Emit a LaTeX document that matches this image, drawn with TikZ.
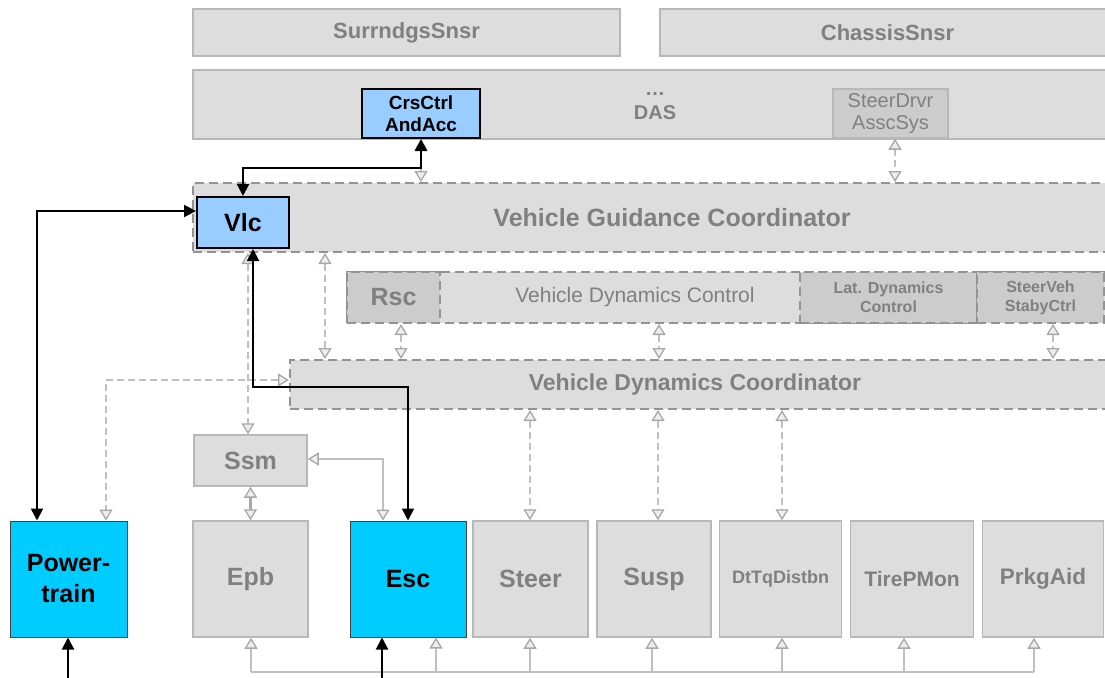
\documentclass[tikz,border=0pt]{standalone}
\usepackage{fontspec}
\setmainfont{Liberation Sans}
\usetikzlibrary{calc,arrows.meta}

\definecolor{boxfill}{HTML}{DDDDDD}
\definecolor{boxdark}{HTML}{CCCCCC}
\definecolor{boxline}{HTML}{B8B8B8}
\definecolor{dashline}{HTML}{939393}
\definecolor{txtgray}{HTML}{808080}
\definecolor{lineg}{HTML}{C0C0C0}
\definecolor{tipline}{HTML}{A8A8A8}
\definecolor{tipfill}{HTML}{EEEEEE}
\definecolor{vlcblue}{HTML}{99CCFF}
\definecolor{cyanbox}{HTML}{00CCFF}

\newcommand{\sz}[2]{\fontsize{#1}{#2}\selectfont}

\begin{document}
\begin{tikzpicture}[x=1pt,y=-1pt,
  grybox/.style={draw=boxline,line width=1.5pt,fill=boxfill,text=txtgray,inner sep=0pt,align=center},
  dshbox/.style={draw=dashline,line width=2pt,dash pattern=on 9pt off 5pt,fill=boxfill,text=txtgray,inner sep=0pt,align=center},
  blubox/.style={draw=black,line width=2pt,fill=vlcblue,inner sep=0pt,align=center},
  cyabox/.style={draw=black!75,line width=1pt,fill=cyanbox,inner sep=0pt,align=center},
  ecu/.style={minimum height=116pt},
  gtip/.tip={Triangle[width=13pt,length=11pt,line width=1.3pt,color=tipline,fill=tipfill]},
  btip/.tip={Triangle[width=12pt,length=12pt]},
  blk/.style={draw=black,line width=2pt},
  gsol/.style={draw=lineg,line width=2.5pt},
  gdsh/.style={gsol,dash pattern=on 7pt off 4pt}]
\useasboundingbox (0,0) rectangle (1105,677);

% sensors and DAS
\node[grybox,minimum width=427pt,minimum height=47pt,font=\bfseries\sz{22}{26}] (surr) at (406.5,32.5) {SurrndgsSnsr};
\node[grybox,minimum width=455pt,minimum height=47pt,font=\bfseries\sz{22}{26}] (chas) at (887.5,32.5) {ChassisSnsr};
\node[grybox,minimum width=922pt,minimum height=69pt] (das) at (654,104.5) {};
\node[text=txtgray,font=\bfseries\sz{20}{24},align=center] (dastxt) at (655,106) {\dots\\DAS};
\node[blubox,minimum width=118pt,minimum height=49pt,font=\bfseries\sz{19}{22}] (crs) at (421,113.5) {CrsCtrl\\AndAcc};
\node[grybox,fill=boxdark,minimum width=115pt,minimum height=49pt,font=\sz{20}{22}] (sdas) at (890.5,113.5) {SteerDrvr\\AsscSys};

% coordinators
\node[dshbox,minimum width=958pt,minimum height=69pt,font=\bfseries\sz{25}{28}] (vgc) at (672,217.5) {Vehicle Guidance Coordinator};
\node[blubox,minimum width=92pt,minimum height=51pt,font=\bfseries\sz{25}{28}] (vlc) at (243,222.5) {Vlc};

\node[dshbox,minimum width=768pt,minimum height=51pt] (vdctl) at (731,297.5) {};
\node[text=txtgray,font=\sz{21}{24}] (vdctltxt) at (635,297) {Vehicle Dynamics Control};
\node[dshbox,fill=boxdark,minimum width=93pt,minimum height=51pt,font=\bfseries\sz{25}{28}] (rsc) at (393.5,297.5) {Rsc};
\node[dshbox,fill=boxdark,minimum width=177pt,minimum height=51pt,font=\bfseries\sz{16}{19}] (lat) at (888.5,297.5) {Lat. Dynamics\\Control};
\node[dshbox,fill=boxdark,minimum width=127pt,minimum height=51pt,font=\bfseries\sz{16}{19}] (svsc) at (1040.5,297.5) {SteerVeh\\StabyCtrl};

\node[dshbox,minimum width=825pt,minimum height=49pt] (vdco) at (702.5,384.5) {};
\node[text=txtgray,font=\bfseries\sz{23}{26}] (vdcotxt) at (695,384.5) {Vehicle Dynamics Coordinator};

\node[grybox,minimum width=113pt,minimum height=51pt,font=\bfseries\sz{25}{28}] (ssm) at (250.5,460.5) {Ssm};

% actuators
\node[cyabox,ecu,minimum width=117pt,font=\bfseries\sz{25}{31}] (pt) at (68.5,579) {Power-\\train};
\node[grybox,ecu,minimum width=115pt,font=\bfseries\sz{25}{28}] (epb) at (250.5,579) {Epb};
\node[cyabox,ecu,minimum width=116pt,font=\bfseries\sz{25}{28}] (esc) at (408,579) {Esc};
\node[grybox,ecu,minimum width=115pt,font=\bfseries\sz{25}{28}] (steer) at (530.5,579) {Steer};
\node[grybox,ecu,minimum width=114pt,font=\bfseries\sz{25}{28}] (susp) at (654,579) {Susp};
\node[grybox,ecu,minimum width=122pt,font=\bfseries\sz{18}{21}] (dtq) at (780.5,579) {DtTqDistbn};
\node[grybox,ecu,minimum width=123pt,font=\bfseries\sz{21}{24}] (tpm) at (912,579) {TirePMon};
\node[grybox,ecu,minimum width=121pt,font=\bfseries\sz{22.5}{26}] (pa) at (1043,579) {PrkgAid};

% gray links
\draw[gsol,arrows={gtip-gtip}] (crs.south) -- (crs.south |- vgc.north);
\draw[gdsh,arrows={gtip-gtip}] (sdas.south -| 895,0) -- (vgc.north -| 895,0);
\draw[gdsh,arrows={gtip-gtip}] (vgc.south -| 325,0) -- (vdco.north -| 325,0);
\draw[gdsh,arrows={gtip-gtip}] (rsc.south -| 401,0) -- (vdco.north -| 401,0);
\draw[gdsh,arrows={gtip-gtip}] (vdctl.south -| 659,0) -- (vdco.north -| 659,0);
\draw[gdsh,arrows={gtip-gtip}] (svsc.south -| 1053,0) -- (vdco.north -| 1053,0);
\foreach \n/\x in {steer/530,susp/658,dtq/782}
  \draw[gdsh,arrows={gtip-gtip}] (vdco.south -| \x,0) -- (\n.north -| \x,0);
\draw[gdsh,arrows={gtip-gtip}] (vgc.south -| 248,0) -- (ssm.north -| 248,0);
\coordinate (pdsh) at (106,380);
\draw[gdsh,arrows={gtip-gtip}] (vdco.west |- pdsh) -- (pdsh) -- (pdsh |- pt.north);
\draw[gsol,draw=tipline,arrows={gtip-gtip}] (ssm.south) -- (epb.north);
\coordinate (sse) at (383,459);
\draw[gsol,arrows={gtip-gtip}] (ssm.east |- sse) -- (sse) -- (sse |- esc.north);

% bus
\coordinate (busl) at (251,672);
\coordinate (busr) at (1034,672);
\draw[gsol] (busl) -- (busr);
\foreach \n/\x in {epb/251,esc/436,steer/530,susp/652,dtq/782,tpm/904,pa/1034}
  \draw[gsol,arrows={-gtip}] (busl -| \x,0) -- (\n.south -| \x,0);

% black links
\coordinate (vup) at (243,168);
\draw[blk,arrows={btip-btip}] (vlc.north) -- (vup) -| (crs.south);
\coordinate (ptc) at (37,211);
\draw[blk,arrows={btip-btip}] (vlc.west |- ptc) -- (ptc) -- (ptc |- pt.north);
\coordinate (vdn) at (253,387);
\draw[blk,arrows={btip-btip}] (vlc.south -| vdn) -- (vdn) -| (esc.north);
\coordinate (ptin) at (68,700);
\draw[blk,arrows={-btip}] (ptin) -- (ptin |- pt.south);
\coordinate (escin) at (382,700);
\draw[blk,arrows={-btip}] (escin) -- (escin |- esc.south);

\end{tikzpicture}
\end{document}
